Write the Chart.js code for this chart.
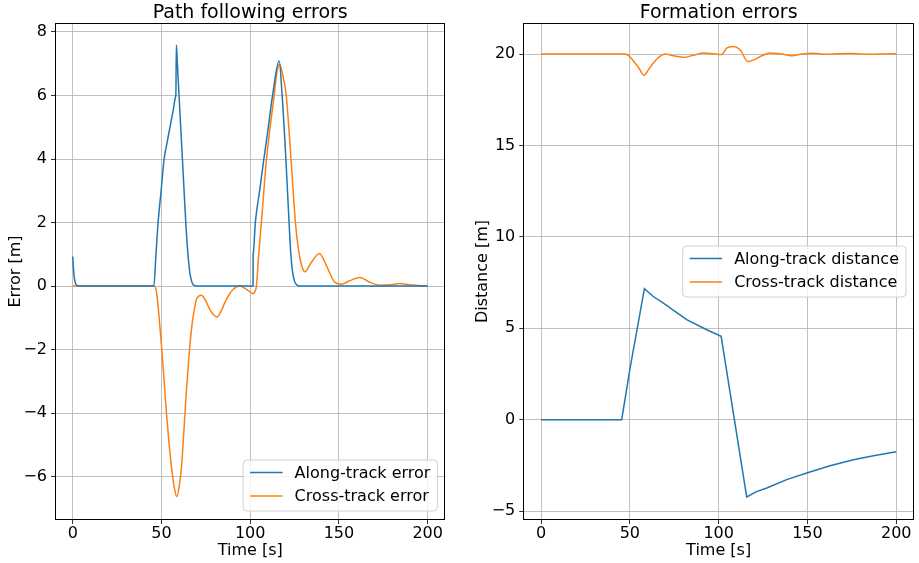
<!DOCTYPE html>
<html><head><meta charset="utf-8">
<script src="https://cdn.jsdelivr.net/npm/chart.js@4.4.1/dist/chart.umd.min.js"></script>
<style>
html,body{margin:0;padding:0;background:#fff;}
#wrap{position:relative;width:919px;height:563px;background:#fff;}
canvas{position:absolute;top:0;}
</style></head><body>
<div id="wrap">
<canvas id="c1" width="460" height="563" style="left:0;width:460px;height:563px"></canvas>
<canvas id="c2" width="459" height="563" style="left:460px;width:459px;height:563px"></canvas>
</div>
<script>
// ---------- data ----------
const xTicks = [0, 50, 100, 150, 200];
const xTickLabels = ['0', '50', '100', '150', '200'];
const yTicksLeft = [-6, -4, -2, 0, 2, 4, 6, 8];
const yTickLabelsLeft = ['\u22126', '\u22124', '\u22122', '0', '2', '4', '6', '8'];
const yTicksRight = [-5, 0, 5, 10, 15, 20];
const yTickLabelsRight = ['\u22125', '0', '5', '10', '15', '20'];

// Path following errors: along-track error
const alongErrTime = [0, 0.5, 1, 1.5, 2, 3, 4, 45.7, 46.9, 48.1, 49.8, 51.5, 53.1, 54.8, 56.5, 58.05, 58.1, 58.4, 58.9, 59.9, 61.8, 63.7, 65, 66, 67, 67.8, 69, 70, 101.6, 101.65, 101.7, 102.9, 105.3, 107.7, 110.2, 112.6, 116.3, 118, 120.1, 121.9, 122.9, 123.8, 125, 126, 128, 200];
const alongErr = [0.93, 0.48, 0.22, 0.1, 0.04, 0.01, 0, 0, 1.0, 2.0, 3.0, 4.0, 4.5, 5.0, 5.5, 5.98, 6.0, 7.59, 7.07, 6.0, 4.0, 2.0, 0.95, 0.42, 0.15, 0.05, 0.01, 0, 0, 0.98, 1.02, 2.0, 3.0, 4.0, 5.0, 6.0, 7.09, 6.0, 4.0, 2.0, 1.0, 0.48, 0.15, 0.05, 0, 0];

// Path following errors: cross-track error
const crossErrTime = [0, 46.2, 47.2, 48.1, 49, 50, 51.4, 52.8, 54.2, 55.6, 57.1, 58.6, 60, 61.3, 62.7, 64.1, 65.5, 66.9, 68.3, 69.7, 72.5, 74.8, 77.2, 79.3, 81.3, 83.5, 85.7, 88, 90.4, 94.1, 97.9, 101.6, 102.6, 103.5, 104.8, 106.3, 109.2, 113.5, 115, 116.6, 118.5, 120.3, 123, 125.5, 127.2, 129, 130.8, 134.5, 139, 143, 147.7, 151.5, 156.1, 161.8, 167.4, 173.1, 178.7, 184.3, 190, 200];
const crossErr = [0, 0, -0.2, -0.62, -1.2, -1.88, -2.9, -3.99, -4.9, -5.67, -6.3, -6.62, -6.3, -5.67, -4.5, -3.25, -2.2, -1.36, -0.8, -0.42, -0.29, -0.45, -0.73, -0.9, -0.97, -0.8, -0.52, -0.28, -0.1, 0.0, -0.1, -0.24, -0.18, 0.0, 1.0, 2.0, 4.0, 6.0, 6.7, 6.98, 6.6, 6.0, 4.0, 2.0, 1.15, 0.65, 0.45, 0.75, 1.03, 0.64, 0.12, 0.06, 0.17, 0.27, 0.12, 0.03, 0.04, 0.08, 0.04, 0.0];

// Formation errors: along-track distance
const alongDistTime = [0, 45.4, 50.1, 58.2, 63, 68.9, 75, 82, 93.3, 101.4, 115.8, 121, 127.1, 138.3, 149.6, 162.7, 175.9, 187.2, 200];
const alongDist = [0, 0, 2.8, 7.17, 6.75, 6.38, 5.95, 5.47, 4.92, 4.56, -4.23, -3.95, -3.74, -3.28, -2.92, -2.52, -2.19, -1.97, -1.75];

// Formation errors: cross-track distance
const crossDistTime = [0, 47.3, 49.5, 52, 55, 58, 60.5, 63.2, 66.5, 69.8, 74.5, 80.1, 85.7, 91.4, 97, 101.7, 104.5, 108.3, 112.1, 116.4, 119.5, 124.3, 128.9, 135.5, 141.2, 146.8, 152.4, 160.8, 167, 174, 180, 187.1, 193, 200];
const crossDist = [20, 20, 19.9, 19.62, 19.25, 18.84, 19.15, 19.51, 19.85, 20.0, 19.91, 19.82, 19.93, 20.06, 20.02, 19.97, 20.33, 20.42, 20.24, 19.6, 19.67, 19.91, 20.06, 20.0, 19.91, 20.0, 20.05, 19.99, 20.02, 20.03, 20.0, 19.99, 20.01, 20.02];

// ---------- styling / chart setup ----------
const FONT = "'DejaVu Sans', 'Liberation Sans', sans-serif";
Chart.defaults.font.family = FONT;
Chart.defaults.color = '#000';
const BLUE = '#1f77b4', ORANGE = '#ff7f0e';

const toXY = (ts, vs) => ts.map((t, i) => ({ x: t, y: vs[i] }));

const framePlugin = {
  id: 'mplFrame',
  afterDatasetsDraw(chart) {
    const { ctx, chartArea: a } = chart;
    ctx.save();
    ctx.strokeStyle = '#000';
    ctx.lineWidth = 1;
    ctx.strokeRect(Math.round(a.left) + 0.5, Math.round(a.top) + 0.5, Math.round(a.right - a.left) - 1, Math.round(a.bottom - a.top) - 1);
    ctx.restore();
  }
};

const legendPlugin = {
  id: 'mplLegend',
  afterDraw(chart, args, opts) {
    const { ctx, chartArea: a } = chart;
    const ds = chart.data.datasets;
    ctx.save();
    ctx.font = '16px ' + FONT;
    const tw = Math.max(...ds.map(d => ctx.measureText(d.label).width));
    const w = 51.5 + tw + 7, h = 51;
    const x = a.right - 8 - w;
    const y = opts.loc === 'lower right' ? a.bottom - 9 - h : (a.top + a.bottom) / 2 - h / 2;
    ctx.beginPath();
    ctx.roundRect(x, y, w, h, 4);
    ctx.fillStyle = 'rgba(255,255,255,0.8)';
    ctx.fill();
    ctx.strokeStyle = '#d0d0d0';
    ctx.lineWidth = 1;
    ctx.stroke();
    ds.forEach((d, i) => {
      const cy = y + 12.5 + i * 23.4;
      ctx.beginPath();
      ctx.moveTo(x + 7, cy);
      ctx.lineTo(x + 39.5, cy);
      ctx.strokeStyle = d.borderColor;
      ctx.lineWidth = 1.5;
      ctx.stroke();
      ctx.fillStyle = '#000';
      ctx.textBaseline = 'middle';
      ctx.textAlign = 'left';
      ctx.fillText(d.label, x + 51.5, cy + 1);
    });
    ctx.restore();
  }
};

function makeChart(id, cfg) {
  return new Chart(document.getElementById(id), {
    type: 'line',
    data: { datasets: cfg.datasets },
    plugins: [framePlugin, legendPlugin],
    options: {
      responsive: false,
      animation: false,
      devicePixelRatio: 1,
      layout: { padding: { left: 0, right: cfg.padRight, top: 0, bottom: 0 } },
      elements: { point: { radius: 0 }, line: { borderWidth: 1.5 } },
      plugins: {
        legend: { display: false },
        tooltip: { enabled: false },
        title: {
          display: true, text: cfg.title, fullSize: false,
          font: { size: 19, weight: 'normal', lineHeight: 1 },
          padding: { top: 3.5, bottom: 0.5 }, color: '#000'
        },
        mplLegend: { loc: cfg.legendLoc }
      },
      scales: {
        x: {
          type: 'linear', min: -10, max: 210,
          afterBuildTicks: s => { s.ticks = xTicks.map(v => ({ value: v })); },
          afterFit: s => { s.height = 563 - 520; },
          ticks: { autoSkip: false, maxRotation: 0, padding: 0, font: { size: 16 }, color: '#000',
                   callback: (v, i) => xTickLabels[i] },
          grid: { color: '#b0b0b0', lineWidth: 0.8, tickColor: '#000', tickLength: 4, drawTicks: true },
          border: { display: false },
          title: { display: true, text: 'Time [s]', font: { size: 16 }, color: '#000', padding: { top: 0, bottom: 3 } }
        },
        y: {
          type: 'linear', min: cfg.yMin, max: cfg.yMax,
          afterBuildTicks: s => { s.ticks = cfg.yTicks.map(v => ({ value: v })); },
          afterFit: s => { s.width = cfg.yWidth; },
          ticks: { autoSkip: false, padding: 4, font: { size: 16 }, color: '#000',
                   callback: (v, i) => cfg.yLabels[i] },
          grid: { color: '#b0b0b0', lineWidth: 0.8, tickColor: '#000', tickLength: 4, drawTicks: true },
          border: { display: false },
          title: { display: true, text: cfg.yTitle, font: { size: 16 }, color: '#000', padding: { top: cfg.yTitlePad, bottom: 0 } }
        }
      }
    }
  });
}

makeChart('c1', {
  title: 'Path following errors',
  yTitle: 'Error [m]',
  yMin: -7.36, yMax: 8.28,
  yTicks: yTicksLeft, yLabels: yTickLabelsLeft,
  yWidth: 55, padRight: 14.6, yTitlePad: 6.4,
  legendLoc: 'lower right',
  datasets: [
    { label: 'Along-track error', data: toXY(alongErrTime, alongErr), borderColor: BLUE, cubicInterpolationMode: 'monotone' },
    { label: 'Cross-track error', data: toXY(crossErrTime, crossErr), borderColor: ORANGE, cubicInterpolationMode: 'monotone' }
  ]
});

makeChart('c2', {
  title: 'Formation errors',
  yTitle: 'Distance [m]',
  yMin: -5.49, yMax: 21.7,
  yTicks: yTicksRight, yLabels: yTickLabelsRight,
  yWidth: 63.3, padRight: 5, yTitlePad: 13.4,
  legendLoc: 'center right',
  datasets: [
    { label: 'Along-track distance', data: toXY(alongDistTime, alongDist), borderColor: BLUE, tension: 0 },
    { label: 'Cross-track distance', data: toXY(crossDistTime, crossDist), borderColor: ORANGE, cubicInterpolationMode: 'monotone' }
  ]
});
</script>
</body></html>
